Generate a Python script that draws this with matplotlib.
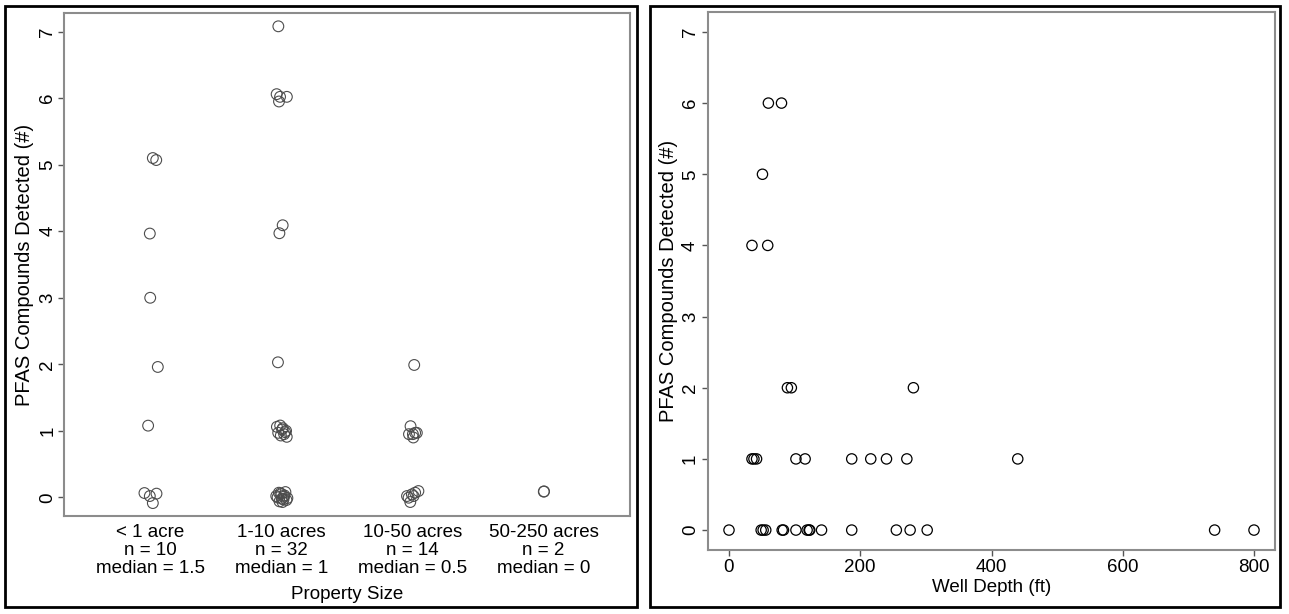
import matplotlib.pyplot as plt
from matplotlib.patches import Rectangle
import numpy as np

plt.rcParams['font.family'] = ['Liberation Sans', 'DejaVu Sans']

# left panel: jittered strip chart by property size
size_labels = ['< 1 acre\nn = 10\nmedian = 1.5',
               '1-10 acres\nn = 32\nmedian = 1',
               '10-50 acres\nn = 14\nmedian = 0.5',
               '50-250 acres\nn = 2\nmedian = 0']

# x = group position incl. jitter, y = count incl. jitter
lt1_x = [1.018, 1.044, 0.995, 0.998, 1.056, 0.982, 0.954, 0.995, 1.046, 1.018]
lt1_y = [5.10, 5.07, 3.965, 3.00, 1.96, 1.078, 0.065, 0.02, 0.056, -0.086]

a1_10_x = [1.976, 1.963, 1.989, 2.041, 1.981, 2.009, 1.984, 1.973,
           1.965, 1.990, 2.010, 2.035, 1.975, 2.020, 2.040, 1.995, 2.005, 2.028,
           1.960, 1.985, 2.000, 2.015, 2.030, 2.045, 1.970, 1.992, 2.008, 2.022,
           2.038, 1.980, 2.002, 2.018]
a1_10_y = [7.08, 6.06, 6.02, 6.02, 5.95, 4.09, 3.97, 2.03,
           1.06, 1.08, 1.04, 1.00, 0.97, 0.95, 0.91, 0.93, 1.02, 0.98,
           0.02, -0.06, 0.05, -0.03, 0.08, -0.01, 0.00, 0.06, -0.07, 0.03,
           -0.04, 0.07, -0.02, 0.01]

a10_50_x = [3.013, 2.985, 3.003, 3.020, 2.973, 3.006, 3.033,
            2.970, 2.995, 3.020, 3.045, 2.983, 3.008, 2.958]
a10_50_y = [1.99, 1.07, 0.95, 0.97, 0.95, 0.90, 0.97,
            -0.005, 0.045, 0.07, 0.095, -0.07, 0.02, 0.02]

a50_250_x = [4.002, 4.004]
a50_250_y = [0.086, 0.090]

# right panel: well depth vs number detected
depth = [0, 49, 52, 56, 81, 83, 102, 119, 122, 123, 141, 187, 255, 276, 302, 740, 800,
         35, 38, 42, 102, 116, 187, 216, 240, 271, 440,
         89, 95, 281,
         35, 59,
         51,
         60, 80]
detected = [0] * 17 + [1] * 10 + [2] * 3 + [4] * 2 + [5] + [6] * 2

fig = plt.figure(figsize=(12.89, 6.14), dpi=100)

# black frames around each panel
for x0, y0, w, h in [(5, 6, 632, 601), (650, 6, 630, 601)]:
    fig.patches.append(Rectangle((x0 / 1289, 1 - (y0 + h) / 614), w / 1289, h / 614,
                                 transform=fig.transFigure, fill=False,
                                 edgecolor='black', linewidth=2))

gray = '#8c8c8c'

ax1 = fig.add_axes([64 / 1289, 1 - 516 / 614, (630 - 64) / 1289, (516 - 13) / 614])
for xs, ys in [(lt1_x, lt1_y), (a1_10_x, a1_10_y), (a10_50_x, a10_50_y), (a50_250_x, a50_250_y)]:
    ax1.scatter(xs, ys, s=60, facecolors='none', edgecolors='#4d4d4d', linewidths=0.8)
ax1.set_xlim(0.34, 4.66)
ax1.set_ylim(-0.28, 7.28)
ax1.set_xticks([1, 2, 3, 4])
ax1.set_xticklabels(size_labels, fontsize=13.5, linespacing=1.08)
ax1.tick_params(axis='x', length=0, pad=6)
ax1.set_yticks(range(8))
ax1.set_yticklabels([str(i) for i in range(8)], rotation=90, va='center', fontsize=13.5)
ax1.tick_params(axis='y', length=4.5, width=1, color='#555555', pad=1)
ax1.set_xlabel('Property Size', fontsize=13.5, labelpad=6)
ax1.set_ylabel('PFAS Compounds Detected (#)', fontsize=14.5, labelpad=4)
for sp in ax1.spines.values():
    sp.set_color(gray)
    sp.set_linewidth(1.5)

ax2 = fig.add_axes([708 / 1289, 1 - 550 / 614, (1275 - 708) / 1289, (550 - 12) / 614])
ax2.scatter(depth, detected, s=55, facecolors='none', edgecolors='black', linewidths=0.9)
ax2.set_xlim(-32, 832)
ax2.set_ylim(-0.28, 7.28)
ax2.set_xticks([0, 200, 400, 600, 800])
ax2.set_xticklabels(['0', '200', '400', '600', '800'], fontsize=13.5)
ax2.set_yticks(range(8))
ax2.set_yticklabels([str(i) for i in range(8)], rotation=90, va='center', fontsize=13.5)
ax2.tick_params(length=4.5, width=1, color='#555555', pad=2)
ax2.set_xlabel('Well Depth (ft)', fontsize=13.5, labelpad=2)
ax2.set_ylabel('PFAS Compounds Detected (#)', fontsize=14.5, labelpad=3)
for sp in ax2.spines.values():
    sp.set_color(gray)
    sp.set_linewidth(1.5)

fig.savefig('out.png', dpi=100)
